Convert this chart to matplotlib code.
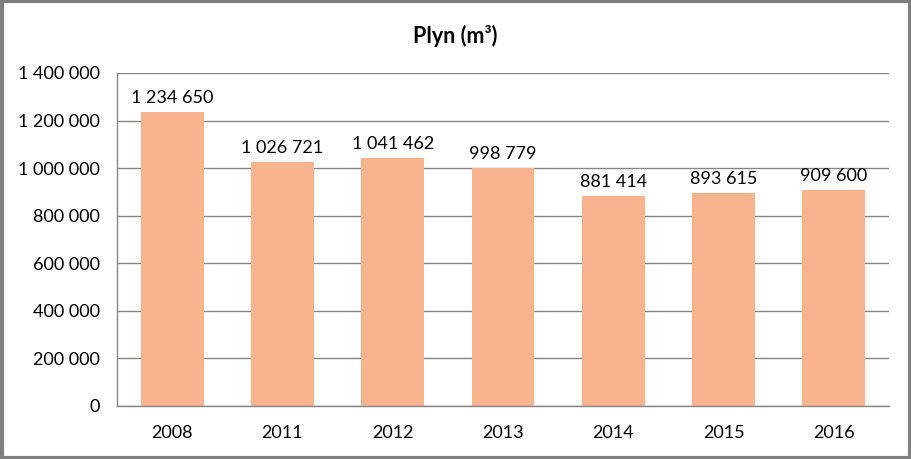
import matplotlib
matplotlib.use("Agg")
import matplotlib.pyplot as plt
import numpy as np

years = ["2008", "2011", "2012", "2013", "2014", "2015", "2016"]
values = [1234650, 1026721, 1041462, 998779, 881414, 893615, 909600]

def fmt(v):
    return f"{v:,}".replace(",", " ")

plt.rcParams["font.family"] = ["Lato", "DejaVu Sans"]

fig = plt.figure(figsize=(9.12, 4.59), dpi=100)
ax = fig.add_axes([0.1283, 0.1155, 0.8465, 0.7255])

x = np.arange(len(years))
ax.bar(x, values, width=0.57, color="#F8B48F", zorder=2)
for xi, v in zip(x, values):
    ax.text(xi, v + 25000, fmt(v), ha="center", va="bottom", fontsize=13)

ax.set_xlim(-0.5, len(years) - 0.5)
ax.set_ylim(0, 1400000)
ticks = np.arange(0, 1400001, 200000)
ax.set_yticks(ticks)
ax.set_yticklabels([fmt(t) for t in ticks], fontsize=13)
ax.set_xticks(x)
ax.set_xticklabels(years, fontsize=13)
ax.tick_params(axis="y", length=0, pad=12)
ax.tick_params(axis="x", length=0, pad=14)
ax.grid(axis="y", color="#868686", lw=1, zorder=0)
for s in ["top", "right"]:
    ax.spines[s].set_visible(False)
for s in ["left", "bottom"]:
    ax.spines[s].set_color("#868686")
    ax.spines[s].set_linewidth(1)

fig.text(0.4995, 0.922, "Plyn (m³)", ha="center", va="center", fontsize=15.5, fontweight="bold")
fig.patches.append(plt.Rectangle((0.002, 0.003), 0.996, 0.994, transform=fig.transFigure,
                                 fill=False, edgecolor="#7F7F7F", lw=3))

fig.savefig("out.png", dpi=100)
